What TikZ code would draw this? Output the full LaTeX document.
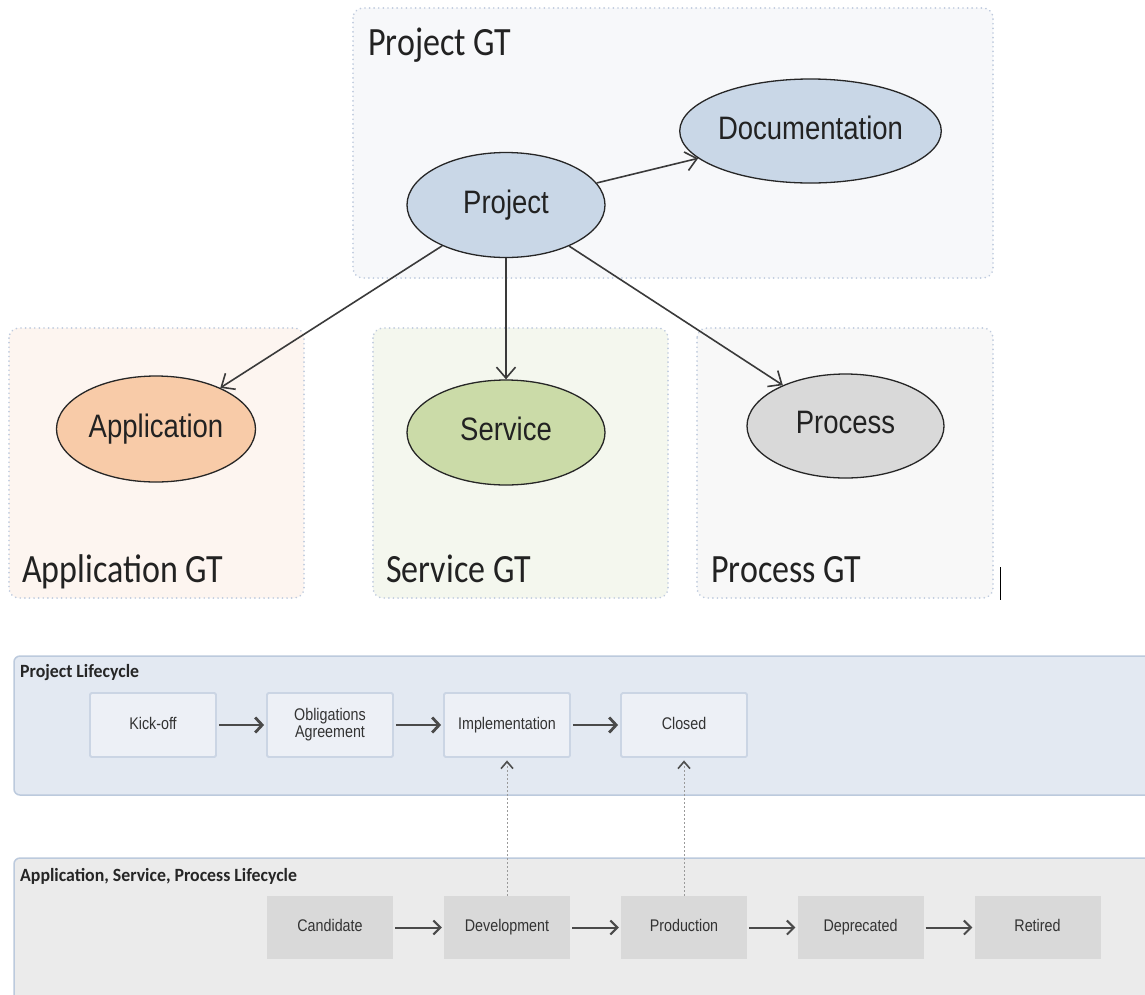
\documentclass[tikz,border=0pt]{standalone}
\usepackage{fontspec}
\setmainfont{Liberation Sans}
\newfontfamily\calfont{Carlito}
\usetikzlibrary{shapes.geometric,arrows.meta}
% text is set slightly taller than wide
\newcommand{\tallt}[1]{\scalebox{1}[1.18]{#1}}
\newcommand{\tallst}[1]{\scalebox{1}[1.18]{#1\vphantom{Ag}}}
\newcommand{\entlabel}[1]{\raisebox{-1.8pt}{\tallst{#1}}}

\definecolor{grpline}{HTML}{BFCBDE}
\definecolor{projgrp}{HTML}{F7F8FA}
\definecolor{appgrp}{HTML}{FDF5F0}
\definecolor{servgrp}{HTML}{F4F7EE}
\definecolor{procgrp}{HTML}{F8F8F8}
\definecolor{blueent}{HTML}{C9D7E7}
\definecolor{appent}{HTML}{F8CBA8}
\definecolor{servent}{HTML}{CBDBA8}
\definecolor{procent}{HTML}{D9D9D9}
\definecolor{connc}{HTML}{3A3A3A}
\definecolor{labtext}{HTML}{222222}
\definecolor{lanefill}{HTML}{E3E9F2}
\definecolor{laneline}{HTML}{BCCADD}
\definecolor{alanefill}{HTML}{EBEBEB}
\definecolor{pstagefill}{HTML}{EDF0F6}
\definecolor{pstageline}{HTML}{CBD5E4}
\definecolor{astagefill}{HTML}{D9D9D9}
\definecolor{stagetext}{HTML}{333333}
\definecolor{flowc}{HTML}{4A4A4A}
\definecolor{linkc}{HTML}{9A9A9A}
\definecolor{linkhead}{HTML}{4F4F4F}

\tikzset{
  grp/.style={draw=grpline, line width=1.8pt, line cap=round,
    dash pattern=on 0.1pt off 4.5pt, rounded corners=10pt},
  gtlabel/.style={font=\calfont\fontsize{34}{40}\selectfont, text=labtext,
    anchor=base west, inner sep=0pt},
  ent/.style={ellipse, draw=black!85, line width=1.3pt, inner sep=0pt,
    text=labtext, font=\fontsize{27.5}{32}\selectfont},
  conn/.style={draw=connc, line width=1.6pt,
    -{Straight Barb[length=11pt,width=19pt]}},
  lane/.style={line width=1.5pt, draw=laneline, rounded corners=6pt},
  lanelabel/.style={font=\calfont\bfseries\fontsize{17.8}{20}\selectfont,
    text=black!85, anchor=west, inner sep=0pt},
  stagebox/.style={rectangle, minimum width=126pt, minimum height=64pt,
    inner sep=0pt, text=stagetext, font=\fontsize{14.3}{16}\selectfont,
    align=center},
  pstage/.style={stagebox, fill=pstagefill, draw=pstageline, line width=1.8pt,
    rounded corners=1.5pt},
  astage/.style={stagebox, fill=astagefill, minimum height=63pt},
  pflow/.style={draw=flowc, line width=2.8pt,
    -{Straight Barb[length=7pt,width=15pt]}, shorten <=2pt, shorten >=2pt},
  aflow/.style={draw=flowc, line width=2pt,
    -{Straight Barb[length=7pt,width=14pt]}, shorten <=2pt, shorten >=2pt},
  link/.style={draw=linkc, line width=1pt, dash pattern=on 2pt off 2pt,
    -{Straight Barb[length=7pt,width=12pt,line width=1.6pt,color=linkhead]},
    shorten >=2.5pt}
}

\begin{document}
\begin{tikzpicture}[x=1pt,y=-1pt]
\clip (0,0) rectangle (1145,994);
\fill[white] (0,0) rectangle (1145,994);

% ---------- governance groups ----------
\draw[grp, fill=projgrp] (353,8) rectangle (993,278);
\draw[grp, fill=appgrp]  (9,328) rectangle (304,598);
\draw[grp, fill=servgrp] (373,328) rectangle (668,598);
\draw[grp, fill=procgrp] (697,328) rectangle (993,598);

\node[gtlabel] (lproj) at (368,55)  {\tallt{Project GT}};
\node[gtlabel] (lapp)  at (22,582)  {\tallt{Application GT}};
\node[gtlabel] (lserv) at (386,582) {\tallt{Service GT}};
\node[gtlabel] (lproc) at (711,582) {\tallt{Process GT}};

% ---------- entities ----------
\node[ent, fill=blueent, minimum width=198pt, minimum height=105pt] (proj) at (506,205) {\entlabel{Project}};
\node[ent, fill=blueent, minimum width=247pt, minimum height=104pt] (doc) at (810.5,131) {\entlabel{Documentation}};
\node[ent, fill=appent, minimum width=199pt, minimum height=106pt] (app) at (156,429) {\entlabel{Application}};
\node[ent, fill=servent, minimum width=198pt, minimum height=105pt] (serv) at (506,432.5) {\entlabel{Service}};
\node[ent, fill=procent, minimum width=197pt, minimum height=104pt] (proc) at (845.5,426) {\entlabel{Process}};

\draw[conn] (proj) -- (doc);
\draw[conn] (proj) -- (app);
\draw[conn] (proj) -- (serv);
\draw[conn] (proj) -- (proc);

% text cursor mark
\draw[black, line width=1.6pt] (1000.5,567) -- (1000.5,600);

% ---------- project lifecycle ----------
\draw[lane, fill=lanefill] (14,656) rectangle (1165,795);
\node[lanelabel] (lplc) at (20,673) {\scalebox{1}[1.05]{Project Lifecycle}};

\node[pstage] (kick) at (153,725) {\tallst{Kick-off}};
\node[pstage] (obl)  at (330,725) {\tallt{\begin{tabular}{@{}c@{}}Obligations\\[-2pt]Agreement\end{tabular}}};
\node[pstage] (impl) at (507,725) {\tallst{Implementation}};
\node[pstage] (clos) at (684,725) {\tallst{Closed}};

\draw[pflow] (kick) -- (obl);
\draw[pflow] (obl) -- (impl);
\draw[pflow] (impl) -- (clos);

% ---------- application / service / process lifecycle ----------
\draw[lane, fill=alanefill] (14,858) rectangle (1165,1010);
\node[lanelabel] (lalc) at (20,876) {\scalebox{1}[1.05]{Application, Service, Process Lifecycle}};

\node[astage] (cand) at (330,927.5)    {\tallst{Candidate}};
\node[astage] (dev)  at (507,927.5)    {\tallst{Development}};
\node[astage] (prod) at (684,927.5)    {\tallst{Production}};
\node[astage] (depr) at (860.5,927.5)  {\tallst{Deprecated}};
\node[astage] (ret)  at (1037.5,927.5) {\tallst{Retired}};

\draw[aflow] (cand) -- (dev);
\draw[aflow] (dev) -- (prod);
\draw[aflow] (prod) -- (depr);
\draw[aflow] (depr) -- (ret);

% ---------- cross-lifecycle links ----------
\draw[link] (dev.north) -- (impl.south);
\draw[link] (prod.north) -- (clos.south);
\end{tikzpicture}
\end{document}
